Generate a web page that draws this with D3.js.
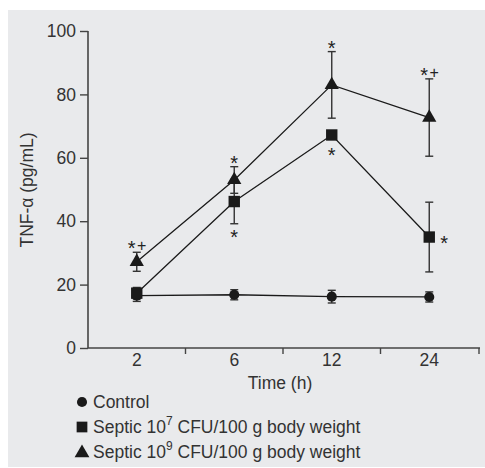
<!DOCTYPE html>
<html><head><meta charset="utf-8">
<script src="https://cdn.jsdelivr.net/npm/d3@7"></script>
<style>body{margin:0;background:#fff}svg{display:block}text{font-family:"Liberation Sans",Arial,sans-serif}</style>
</head><body><svg id="c" width="485" height="468"></svg>
<script>
const times = ["2","6","12","24"];
const yTicks = [0,20,40,60,80,100];
const controlMean = [16.5,16.8,16.2,16.1];
const controlErr = [1.8,1.6,2.0,1.6];
const septic7Mean = [17.3,46.2,67.2,35.0];
const septic7Err = [1.8,7.0,0,11.0];
const septic9Mean = [27.2,53.0,83.0,72.7];
const septic9Err = [3.0,4.2,10.5,12.2];
const ann9 = ["*+","*","*","*+"];
const ann7 = ["","*","*","*"];

const FS = 17.5;
const svg = d3.select("#c");
svg.append("rect").attr("x",8).attr("y",10).attr("width",477).attr("height",457).attr("fill","#e9eaec");

const x = d3.scaleBand().domain(times).range([88,478]);
const y = d3.scaleLinear().domain([0,100]).range([348,31]);
const cx = t => x(t)+x.bandwidth()/2;
const ink = "#1a1a1a", txt="#333";

const ya = svg.append("g").attr("transform","translate(88,0)").call(d3.axisLeft(y).tickValues(yTicks).tickSize(8).tickPadding(4));
const xa = svg.append("g").attr("transform","translate(0,348)").call(d3.axisBottom(x).tickSize(0).tickPadding(6));
[ya,xa].forEach(g=>{g.selectAll("path").attr("stroke","#444").attr("stroke-width",1.6);
  g.selectAll("line").attr("stroke","#444").attr("stroke-width",1.4);
  g.selectAll("text").attr("fill",txt).attr("font-size",FS).attr("font-family","Liberation Sans, Arial, sans-serif");});
ya.select("path").attr("d","M0,31V348");
xa.select("path").attr("d","M88,0H480");
const bounds = times.slice(1).map(t=>x(t)).concat([479]);
svg.append("g").selectAll("line").data(bounds).join("line")
  .attr("x1",d=>d).attr("x2",d=>d).attr("y1",348).attr("y2",354).attr("stroke","#444").attr("stroke-width",1.4);

svg.append("text").attr("x",280).attr("y",389).attr("text-anchor","middle").attr("font-size",FS).attr("fill",txt).text("Time (h)");
svg.append("text").attr("transform","translate(33,190) rotate(-90)").attr("text-anchor","middle").attr("font-size",FS).attr("fill",txt).text("TNF-α (pg/mL)");

const series = [
  {m:controlMean,e:controlErr,sym:d3.symbolCircle,size:80},
  {m:septic7Mean,e:septic7Err,sym:d3.symbolSquare,size:130},
  {m:septic9Mean,e:septic9Err,sym:d3.symbolTriangle,size:88}
];
const line = d3.line().x((d,i)=>cx(times[i])).y(d=>y(d));
series.forEach(s=>{
  svg.append("path").attr("d",line(s.m)).attr("fill","none").attr("stroke",ink).attr("stroke-width",1.3);
});
series.forEach(s=>{
  const g = svg.append("g");
  s.m.forEach((v,i)=>{
    if(s.e[i]>0){
      const X=cx(times[i]);
      g.append("line").attr("x1",X).attr("x2",X).attr("y1",y(v+s.e[i])).attr("y2",y(v-s.e[i])).attr("stroke","#333").attr("stroke-width",1.4);
      [v+s.e[i],v-s.e[i]].forEach(w=>g.append("line").attr("x1",X-4).attr("x2",X+4).attr("y1",y(w)).attr("y2",y(w)).attr("stroke","#333").attr("stroke-width",1.4));
    }
  });
});
series.forEach(s=>{
  svg.append("g").selectAll("path").data(s.m).join("path")
    .attr("transform",(d,i)=>`translate(${cx(times[i])},${y(d)})`)
    .attr("d",d3.symbol().type(s.sym).size(s.size)).attr("fill",ink);
});
function mark(str, xc, yc){
  const chars = str.split("");
  const step = 10;
  chars.forEach((c,k)=>{
    const xx = xc + (k - (chars.length-1)/2)*step;
    if(c==="*") svg.append("text").attr("x",xx).attr("y",yc+12).attr("text-anchor","middle").attr("font-size",20).attr("fill","#222").text("*");
    else svg.append("text").attr("x",xx).attr("y",yc+8).attr("text-anchor","middle").attr("font-size",16).attr("fill","#222").text(c);
  });
}
septic9Mean.forEach((v,i)=>{
  mark(ann9[i], cx(times[i]), y(v+septic9Err[i]) - 9);
});
septic7Mean.forEach((v,i)=>{
  if(!ann7[i]) return;
  if(i===3) mark(ann7[i], cx(times[i])+15, y(v)+1);
  else if(septic7Err[i]>0) mark(ann7[i], cx(times[i]), y(v-septic7Err[i]) + 8);
  else mark(ann7[i], cx(times[i]), y(v) + 15);
});

const leg = [
  {sym:d3.symbolCircle,size:80,label:"Control",sup:"",rest:""},
  {sym:d3.symbolSquare,size:115,label:"Septic 10",sup:"7",rest:" CFU/100 g body weight"},
  {sym:d3.symbolTriangle,size:95,label:"Septic 10",sup:"9",rest:" CFU/100 g body weight"}
];
leg.forEach((l,i)=>{
  const yy = 402 + i*25;
  svg.append("path").attr("transform",`translate(82,${yy+(l.sym===d3.symbolTriangle?1:0)})`).attr("d",d3.symbol().type(l.sym).size(l.size)).attr("fill",ink);
  const t = svg.append("text").attr("x",93).attr("y",yy+6).attr("font-size",FS).attr("fill",txt);
  t.append("tspan").text(l.label);
  if(l.sup){ t.append("tspan").attr("dy",-8).attr("font-size",12).text(l.sup);
    t.append("tspan").attr("dy",8).text(l.rest); }
});
</script></body></html>
